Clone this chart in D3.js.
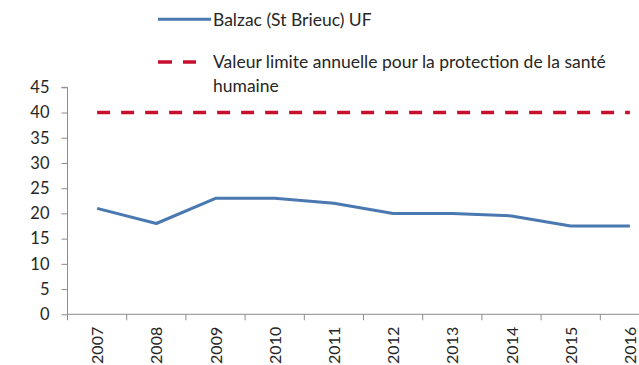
<!DOCTYPE html>
<html>
<head>
<meta charset="utf-8">
<script src="https://cdn.jsdelivr.net/npm/d3@7/dist/d3.min.js"></script>
<style>
  html, body { margin: 0; padding: 0; background: #fff; }
  svg { display: block; font-family: Lato, "Liberation Sans", sans-serif; }
</style>
</head>
<body>
<svg id="chart" width="639" height="365"></svg>
<script>
// Annual NO2 mean at Balzac (St Brieuc), urban background site
const years = ["2007","2008","2009","2010","2011","2012","2013","2014","2015","2016"];
const balzac = [21, 18, 23, 23, 22, 20, 20, 19.5, 17.5, 17.5];
const limitValue = [40, 40, 40, 40, 40, 40, 40, 40, 40, 40];
const yTicks = [0, 5, 10, 15, 20, 25, 30, 35, 40, 45];
const seriesNames = ["Balzac (St Brieuc) UF", "Valeur limite annuelle pour la protection de la santé", "humaine"];

const svg = d3.select("#chart");
const blue = "#4A78B0";
const red = "#C8102E";
const axisColor = "#8c8c8c";
const textColor = "#262626";

// Plot area; the category axis continues past the right edge of the page
const left = 67.5, bandW = 59.2;
const x = d3.scaleBand().domain(years).range([left, left + bandW * years.length]);
const y = d3.scaleLinear().domain([0, 45]).range([314.3, 87.3]);

// Y axis
const yAxis = svg.append("g").attr("transform", `translate(${left},0)`)
  .call(d3.axisLeft(y).tickValues(yTicks).tickSize(6).tickPadding(12));
yAxis.select(".domain").attr("stroke", axisColor).attr("d", `M-6,${y(45)}H0V${y(0)}`);
yAxis.selectAll(".tick line").attr("stroke", axisColor);
yAxis.selectAll(".tick text").attr("fill", textColor).style("font-size", "16.5px")
  .attr("font-family", "Lato, sans-serif");

// X axis with ticks between categories
const xAxis = svg.append("g").attr("transform", `translate(0,${y(0)})`);
xAxis.append("line").attr("x1", left).attr("x2", left + bandW * years.length)
  .attr("stroke", axisColor).attr("stroke-width", 1);
const edges = d3.range(years.length + 1).map(i => left + i * bandW);
xAxis.selectAll("line.tk").data(edges).join("line").attr("class", "tk")
  .attr("x1", d => d).attr("x2", d => d).attr("y1", 0).attr("y2", 6)
  .attr("stroke", axisColor);
xAxis.selectAll("text").data(years).join("text")
  .attr("transform", d => `translate(${x(d) + x.bandwidth() / 2 + 6},${12.5}) rotate(-90)`)
  .attr("text-anchor", "end")
  .attr("fill", textColor)
  .style("font-size", "16px")
  .text(d => d);

const cx = d => x(d) + x.bandwidth() / 2;

// Limit value line (dashed)
const line = d3.line().x((d, i) => cx(years[i])).y(d => y(d));
svg.append("path").datum(limitValue).attr("d", line)
  .attr("fill", "none").attr("stroke", red).attr("stroke-width", 3.5)
  .attr("stroke-dasharray", "13,11");

// Measured series
svg.append("path").datum(balzac).attr("d", line)
  .attr("fill", "none").attr("stroke", blue).attr("stroke-width", 3)
  .attr("stroke-linejoin", "round");

// Legend
const lg = svg.append("g");
lg.append("line").attr("x1", 158).attr("x2", 211).attr("y1", 19.3).attr("y2", 19.3)
  .attr("stroke", blue).attr("stroke-width", 3);
lg.append("text").attr("x", 213).attr("y", 25.5).style("font-size", "17.5px").attr("fill", textColor)
  .text(seriesNames[0]);
lg.append("line").attr("x1", 158).attr("x2", 196).attr("y1", 62).attr("y2", 62)
  .attr("stroke", red).attr("stroke-width", 3.5).attr("stroke-dasharray", "14,11");
lg.append("text").attr("x", 213).attr("y", 68.3).style("font-size", "17.5px").attr("fill", textColor)
  .text(seriesNames[1]);
lg.append("text").attr("x", 213).attr("y", 91.5).style("font-size", "17.5px").attr("fill", textColor)
  .text(seriesNames[2]);
</script>
</body>
</html>
